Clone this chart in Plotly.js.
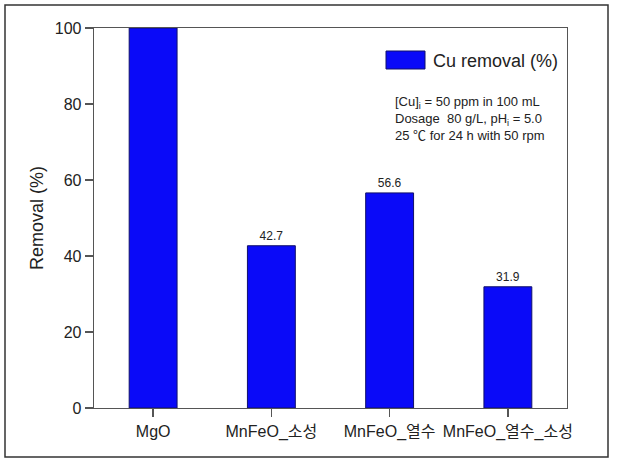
<!DOCTYPE html>
<html>
<head>
<meta charset="utf-8">
<script src="https://cdn.plot.ly/plotly-3.0.1.min.js"></script>
<style>html,body{margin:0;padding:0;background:#fff;}#chart{width:617px;height:468px;}</style>
</head>
<body>
<div id="chart"></div>
<script>
const categories = ['MgO', 'MnFeO_소성', 'MnFeO_열수', 'MnFeO_열수_소성'];
const removal = [100, 42.7, 56.6, 31.9];
const valueLabels = ['', '42.7', '56.6', '31.9'];
const seriesName = 'Cu removal (%)';
const yTicks = [0, 20, 40, 60, 80, 100];
const conditionLines = [
  '[Cu]<sub>i</sub> = 50 ppm in 100 mL',
  'Dosage  80 g/L, pH<sub>i</sub> = 5.0',
  '25 ℃ for 24 h with 50 rpm'
];

const FONT = 'Liberation Sans, Arial, Noto Sans CJK KR, sans-serif';

const trace = {
  type: 'bar',
  x: categories,
  y: removal,
  name: seriesName,
  text: valueLabels,
  textposition: 'outside',
  cliponaxis: false,
  textfont: {family: FONT, size: 12, color: '#222'},
  marker: {color: '#0a0af8', line: {color: '#10106a', width: 1}},
  showlegend: false,
  hoverinfo: 'x+y'
};

// plot area pixel geometry: x 94..567, y 28..408
const W = 473, H = 380, L = 94, T = 28;
const px = v => (v - L) / W;
const py = v => (T + H - v) / H;

const layout = {
  width: 617, height: 468,
  margin: {l: 94, r: 50, t: 28, b: 60},
  paper_bgcolor: '#fff', plot_bgcolor: '#fff',
  font: {family: FONT, color: '#222'},
  bargap: 0.595,
  xaxis: {
    type: 'category',
    range: [-0.5, 3.5],
    showline: true, linecolor: '#555', linewidth: 1.3, mirror: true,
    ticks: 'outside', ticklen: 8, tickcolor: '#555', tickwidth: 1.3,
    tickfont: {family: FONT, size: 16, color: '#222'},
    showgrid: false, zeroline: false
  },
  yaxis: {
    range: [0, 100],
    tickvals: yTicks,
    showline: true, linecolor: '#555', linewidth: 1.3, mirror: true,
    ticks: 'outside', ticklen: 8, tickcolor: '#555', tickwidth: 1.3,
    tickfont: {family: FONT, size: 16, color: '#222'},
    showgrid: false, zeroline: false,
    title: {text: 'Removal (%)', font: {family: FONT, size: 18, color: '#222'}, standoff: 6}
  },
  shapes: [
    {type: 'rect', xref: 'paper', yref: 'paper',
     x0: px(5), x1: px(608), y0: py(457), y1: py(5),
     line: {color: '#333', width: 1.5}, fillcolor: 'rgba(0,0,0,0)', layer: 'below'},
    {type: 'rect', xref: 'paper', yref: 'paper',
     x0: px(386), x1: px(425), y0: py(69), y1: py(51),
     line: {color: '#10106a', width: 1}, fillcolor: '#0a0af8'}
  ],
  annotations: [
    {xref: 'paper', yref: 'paper', x: px(431), y: py(61), xanchor: 'left', yanchor: 'middle',
     text: seriesName, showarrow: false, font: {family: FONT, size: 18, color: '#222'}},
    {xref: 'paper', yref: 'paper', x: px(393), y: py(92), xanchor: 'left', yanchor: 'top', align: 'left',
     text: conditionLines.join('<br>'), showarrow: false, font: {family: FONT, size: 13, color: '#222'}}
  ]
};

Plotly.newPlot('chart', [trace], layout, {displayModeBar: false, staticPlot: true});
</script>
</body>
</html>
